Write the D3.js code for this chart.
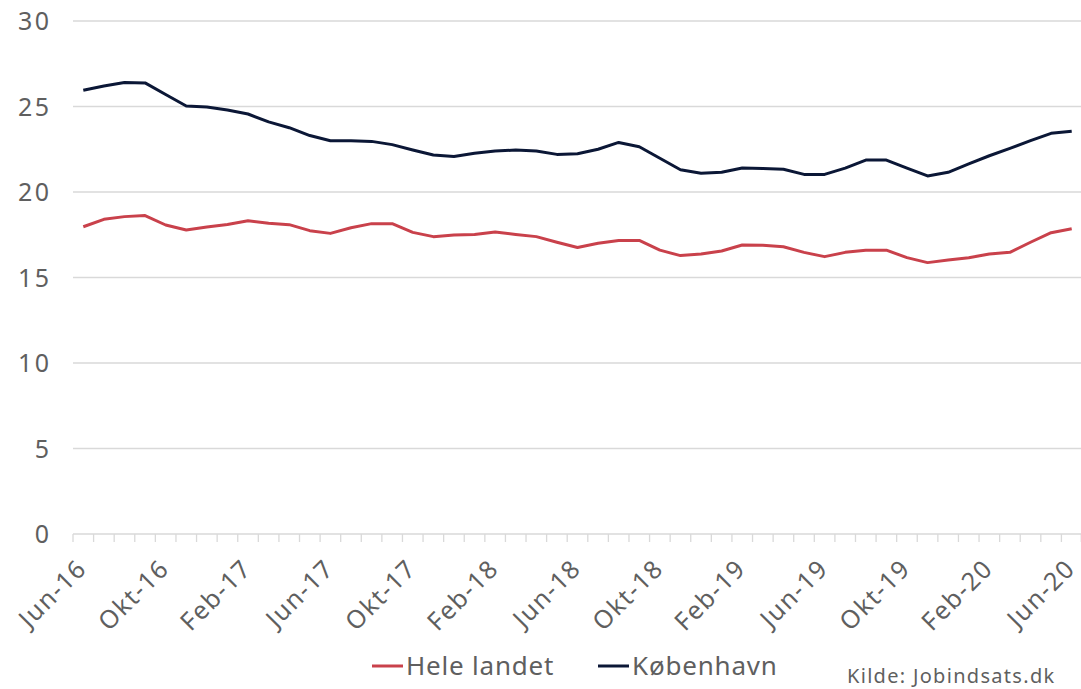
<!DOCTYPE html>
<html>
<head>
<meta charset="utf-8">
<script src="https://cdn.jsdelivr.net/npm/d3@7"></script>
<style>
  body { margin: 0; background: #fff; }
  svg { font-family: 'Noto Sans', sans-serif; }
  .grid line { stroke: #d9d9d9; stroke-width: 1.3; }
  .axis text { fill: #5f5f5f; }
</style>
</head>
<body>
<svg width="1081" height="689"></svg>
<script>
const monthNames = ['Jan', 'Feb', 'Mar', 'Apr', 'Maj', 'Jun', 'Jul', 'Aug', 'Sep', 'Okt', 'Nov', 'Dec'];

// Jun-16 .. Jun-20, monthly
const months = [];
for (let i = 0; i < 49; i++) {
  const m = (5 + i) % 12;
  const yr = 16 + Math.floor((5 + i) / 12);
  months.push(monthNames[m] + '-' + yr);
}

const heleLandet = [
  17.97, 18.4, 18.56, 18.62, 18.07, 17.78, 17.95, 18.1, 18.32, 18.17,
  18.09, 17.74, 17.58, 17.91, 18.15, 18.15, 17.64, 17.39, 17.49, 17.52,
  17.66, 17.52, 17.39, 17.06, 16.75, 17.0, 17.17, 17.17, 16.6, 16.28,
  16.37, 16.55, 16.9, 16.88, 16.8, 16.47, 16.22, 16.47, 16.6, 16.6,
  16.16, 15.87, 16.02, 16.16, 16.37, 16.47, 17.06, 17.62, 17.85
];

const koebenhavn = [
  25.95, 26.2, 26.4, 26.38, 25.7, 25.03, 24.97, 24.8, 24.56, 24.1,
  23.76, 23.3, 23.0, 23.0, 22.96, 22.77, 22.46, 22.16, 22.07, 22.26,
  22.4, 22.45, 22.4, 22.2, 22.24, 22.5, 22.9, 22.65, 21.97, 21.3,
  21.1, 21.15, 21.4, 21.37, 21.33, 21.03, 21.03, 21.4, 21.87, 21.87,
  21.4, 20.94, 21.15, 21.64, 22.12, 22.55, 23.0, 23.43, 23.55
];

const yTicks = [0, 5, 10, 15, 20, 25, 30];

const series = [
  { name: 'Hele landet', values: heleLandet, color: '#c9414b' },
  { name: 'København', values: koebenhavn, color: '#0b1736' }
];

const svg = d3.select('svg');
const plotLeft = 73, plotRight = 1082, plotTop = 21, plotBottom = 534;

const x = d3.scaleBand().domain(months).range([plotLeft, plotRight]).padding(0);
const y = d3.scaleLinear().domain([0, 30]).range([plotBottom, plotTop]);

// gridlines
svg.append('g')
  .attr('class', 'grid')
  .selectAll('line')
  .data(yTicks.filter(d => d > 0))
  .enter()
  .append('line')
  .attr('x1', plotLeft)
  .attr('x2', plotRight)
  .attr('y1', d => y(d))
  .attr('y2', d => y(d));

// y axis labels
svg.append('g')
  .attr('class', 'axis')
  .selectAll('text')
  .data(yTicks)
  .enter()
  .append('text')
  .attr('x', 51.5)
  .attr('y', d => y(d))
  .attr('dy', '0.36em')
  .attr('text-anchor', 'end')
  .style('font-size', '25px')
  .style('letter-spacing', '2.5px')
  .text(d => d);

// x axis: line + tick marks between categories
const xAxis = svg.append('g').attr('class', 'axis');
xAxis.append('line')
  .attr('x1', plotLeft).attr('x2', plotRight)
  .attr('y1', plotBottom).attr('y2', plotBottom)
  .attr('stroke', '#d9d9d9').attr('stroke-width', 1.3);

const tickPos = months.map(d => x(d)).concat([plotRight - 0.7]);
xAxis.selectAll('.tick')
  .data(tickPos)
  .enter()
  .append('line')
  .attr('x1', d => d).attr('x2', d => d)
  .attr('y1', plotBottom).attr('y2', plotBottom + 8)
  .attr('stroke', '#d9d9d9').attr('stroke-width', 1.3);

xAxis.selectAll('.lbl')
  .data(months.filter((d, i) => i % 4 === 0))
  .enter()
  .append('text')
  .attr('text-anchor', 'end')
  .style('font-size', '25px')
  .style('letter-spacing', '1.5px')
  .attr('transform', d => 'translate(' + (x(d) + x.bandwidth() / 2 + 5) + ',' + (plotBottom + 36) + ') rotate(-45)')
  .text(d => d);

// lines
const line = d3.line()
  .x((d, i) => x(months[i]) + x.bandwidth() / 2)
  .y(d => y(d));

svg.append('g')
  .selectAll('path')
  .data(series)
  .enter()
  .append('path')
  .attr('fill', 'none')
  .attr('stroke', d => d.color)
  .attr('stroke-width', 3)
  .attr('stroke-linejoin', 'round')
  .attr('d', d => line(d.values));

// legend
const legendX = [372, 598];
const legend = svg.append('g')
  .selectAll('g')
  .data(series)
  .enter()
  .append('g')
  .attr('transform', (d, i) => 'translate(' + legendX[i] + ',666)');

legend.append('line')
  .attr('x1', 0).attr('x2', 31)
  .attr('stroke', d => d.color)
  .attr('stroke-width', 3);

legend.append('text')
  .attr('x', 34)
  .attr('dy', '0.36em')
  .attr('fill', '#5f5f5f')
  .style('font-size', '26px')
  .style('letter-spacing', '0.8px')
  .text(d => d.name);

svg.append('text')
  .attr('x', 847)
  .attr('y', 683)
  .attr('fill', '#5f5f5f')
  .style('font-size', '20px')
  .style('letter-spacing', '1.3px')
  .text('Kilde:  Jobindsats.dk');
</script>
</body>
</html>
